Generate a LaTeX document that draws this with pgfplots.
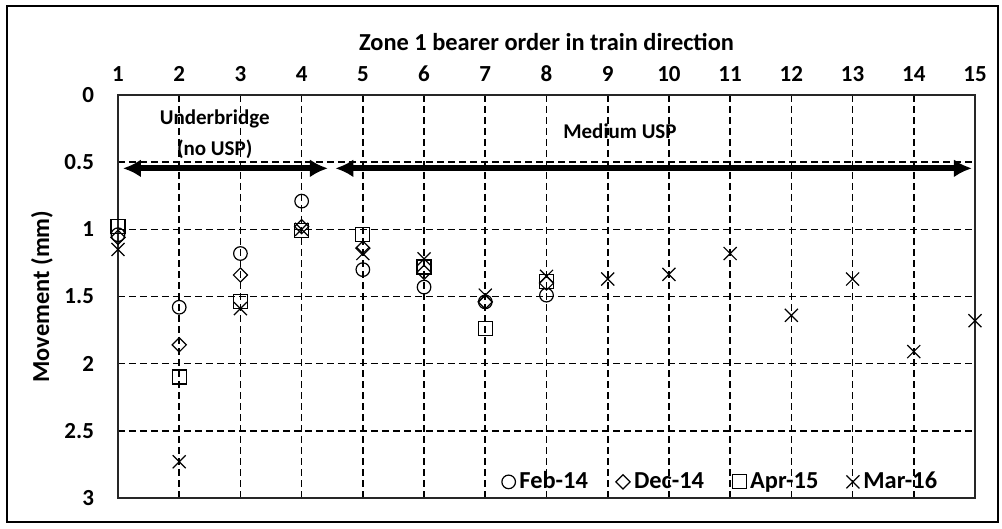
\documentclass[border=0pt]{standalone}
\usepackage{pgfplots}
\pgfplotsset{compat=1.18}
\usepackage{fontspec}
\setmainfont{Carlito}
\usetikzlibrary{arrows.meta}
\begin{document}
\begin{tikzpicture}[x=1pt,y=1pt]
\begin{axis}[
  at={(0,0)}, anchor=south west,
  scale only axis, width=428.5pt, height=201.5pt,
  xmin=1, xmax=15, ymin=0, ymax=3, y dir=reverse,
  xtick={1,...,15}, ytick={0,0.5,...,3},
  xticklabel pos=upper,
  xlabel={Zone 1 bearer order in train direction},
  ylabel={Movement (mm)},
  label style={font=\bfseries\fontsize{12.2}{14}\selectfont},
  xlabel style={yshift=0.5pt},
  ylabel style={yshift=-1pt},
  ticklabel style={font=\bfseries\fontsize{11.5}{13}\selectfont},
  xticklabel style={yshift=3pt},
  yticklabel style={xshift=-8.5pt},
  /pgf/number format/assume math mode=true,
  major tick length=0pt,
  grid=major,
  major grid style={black, line width=0.8pt, dash pattern=on 3.5pt off 2pt},
  axis line style={black!85, line width=0.8pt},
  clip=false,
  legend image code/.code={\draw[mark repeat=2,mark phase=2,#1] plot coordinates {(0cm,0cm)(0.15cm,0cm)(0.3cm,0cm)};},
  legend style={at={(0.968,0.04)}, anchor=east, draw=none, fill=none,
    font=\bfseries\fontsize{12.2}{14}\selectfont,
    /tikz/every even column/.append style={column sep=12pt}},
  legend columns=4,
  legend cell align=left,
]
\addplot[only marks, black, mark=o, mark size=3.4pt, mark options={line width=0.6pt}] coordinates {
(1,1.04)(2,1.58)(3,1.18)(4,0.79)(5,1.30)(6,1.43)(7,1.54)(8,1.49)};
\addlegendentry{Feb-14}
\addplot[only marks, black, mark=square, mark size=2.5pt, mark options={line width=0.6pt, rotate=45}] coordinates {
(1,1.06)(2,1.86)(3,1.34)(4,0.98)(5,1.14)(6,1.32)(7,1.54)(8,1.40)};
\addlegendentry{Dec-14}
\addplot[only marks, black, mark=square, mark size=3.5pt, mark options={line width=0.6pt}] coordinates {
(1,0.98)(2,2.10)(3,1.54)(4,1.01)(5,1.04)(6,1.28)(7,1.74)(8,1.39)};
\addlegendentry{Apr-15}
\addplot[only marks, black, mark=x, mark size=4.6pt, mark options={line width=0.6pt}] coordinates {
(1,1.15)(2,2.73)(3,1.59)(4,1.00)(5,1.18)(6,1.22)(7,1.49)(8,1.35)(9,1.37)(10,1.335)(11,1.18)(12,1.64)(13,1.37)(14,1.91)(15,1.68)};
\addlegendentry{Mar-16}
\draw[line width=3pt, {Latex[length=9pt,width=9pt]}-{Latex[length=9pt,width=9pt]}] (axis cs:1.08,0.546) -- (axis cs:4.43,0.546);
\draw[line width=3pt, {Latex[length=9pt,width=9pt]}-{Latex[length=9pt,width=9pt]}] (axis cs:4.55,0.546) -- (axis cs:14.95,0.546);
\node[font=\bfseries\fontsize{10.5}{15.5}\selectfont, align=center] at (axis cs:2.58,0.29) {Underbridge\\(no USP)};
\node[font=\bfseries\fontsize{10.5}{13}\selectfont] at (axis cs:9.2,0.27) {Medium USP};
\end{axis}
\draw[black, line width=1pt] (-55.25,-12) rectangle (439.75,246);
\pgfresetboundingbox
\useasboundingbox (-59,-15.5) rectangle (442,249);
\end{tikzpicture}
\end{document}
